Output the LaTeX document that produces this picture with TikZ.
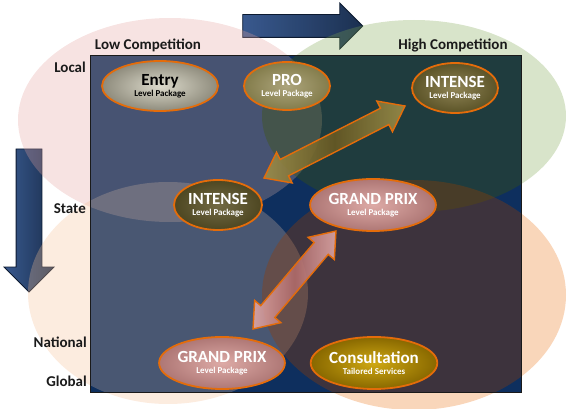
\documentclass[tikz,border=0pt]{standalone}
\usepackage{fontspec}
\setmainfont{Carlito}
\usepackage{tikz}
\usetikzlibrary{shapes.geometric,shapes.arrows,calc}

\definecolor{pkgorange}{HTML}{E46C0A}
\definecolor{labelgrey}{HTML}{1A1A1A}
\definecolor{boxnavy}{HTML}{0E2F5E}
\definecolor{pinkout}{HTML}{E4A29E}
\definecolor{greenout}{HTML}{7DA54E}
\definecolor{peachLout}{HTML}{F5BF94}
\definecolor{peachRout}{HTML}{EB7619}
\definecolor{pinkin}{HTML}{B4999A}
\definecolor{greenin}{HTML}{3F5703}
\definecolor{peachLin}{HTML}{B9A49A}
\definecolor{peachRin}{HTML}{973D00}
\definecolor{arrowlight}{HTML}{2E5088}
\definecolor{arrowdark}{HTML}{0F2547}
\definecolor{arrowedge}{HTML}{0C1A30}
\definecolor{entryin}{HTML}{DCDACB}
\definecolor{entryout}{HTML}{8E8B7C}
\definecolor{proin}{HTML}{ADA57C}
\definecolor{proout}{HTML}{837C4B}
\definecolor{intin}{HTML}{8F8455}
\definecolor{intout}{HTML}{5B5327}
\definecolor{grandin}{HTML}{DDAAA6}
\definecolor{grandout}{HTML}{AE7775}
\definecolor{consin}{HTML}{CFA812}
\definecolor{consout}{HTML}{886800}
\definecolor{oliveend}{HTML}{A09048}
\definecolor{olivemid}{HTML}{6A5A22}
\definecolor{rosyend}{HTML}{E3AAA8}
\definecolor{rosymid}{HTML}{B06A6A}

\newcommand{\pkgtitle}[1]{{\fontsize{17}{11}\selectfont #1}}

\begin{document}
\begin{tikzpicture}[
        x=1pt, y=-1pt,
        pkg/.style={ellipse, draw=pkgorange, line width=1.8pt, inner sep=0pt,
            align=center, text=white, font=\fontsize{9}{11}\selectfont\bfseries},
        axislabel/.style={font=\fontsize{15}{17}\selectfont\bfseries, text=labelgrey, inner sep=0pt},
        bigarrow/.style={single arrow, draw=arrowedge, line width=0.8pt,
            left color=arrowlight, right color=arrowdark, fill opacity=0.95},
        linkarrow/.style={double arrow, draw=pkgorange, line width=1.4pt, inner sep=8.5pt,
            double arrow head extend=8pt, double arrow tip angle=74, fill opacity=0.88}
    ]
    \useasboundingbox (0,0) rectangle (574,409);

    % Direction arrows
    \node[bigarrow, minimum height=120pt, inner sep=11pt, single arrow head extend=11.5pt]
        (compArrow) at (297,26) {};
    \node[bigarrow, rotate=-90, minimum height=143pt, inner sep=12.5pt, single arrow head extend=12pt]
        (geoArrow) at (29,214) {};

    % Pale market circles
    \begin{scope}[fill opacity=0.3]
        \fill[pinkout] (170,120) ellipse [x radius=152pt, y radius=102pt];
        \fill[peachLout] (168,293) ellipse [x radius=140pt, y radius=111pt];
        \fill[greenout] (414,116) ellipse [x radius=152pt, y radius=96pt];
        \fill[peachRout] (414,295) ellipse [x radius=152pt, y radius=115pt];
    \end{scope}

    % Dark panel with the circles showing through
    \fill[boxnavy] (90,56) rectangle (521,393);
    \begin{scope}[fill opacity=0.35]
        \clip (90,56) rectangle (521,393);
        \fill[pinkin] (170,120) ellipse [x radius=152pt, y radius=102pt];
        \fill[peachLin] (168,293) ellipse [x radius=140pt, y radius=111pt];
        \fill[greenin] (414,116) ellipse [x radius=152pt, y radius=96pt];
        \fill[peachRin] (414,295) ellipse [x radius=152pt, y radius=115pt];
    \end{scope}
    \draw[labelgrey, line width=1pt] (90,56) rectangle (521,393);

    % Axis labels
    \node[axislabel] (lowComp) at (148,45) {Low Competition};
    \node[axislabel] (highComp) at (453,45) {High Competition};
    \node[axislabel, anchor=east] (local) at (86,67) {Local};
    \node[axislabel, anchor=east] (state) at (86,209) {State};
    \node[axislabel, anchor=east] (national) at (87,342) {National};
    \node[axislabel, anchor=east] (global) at (87,381) {Global};

    % Packages
    \node[pkg, text=black, inner color=entryin, outer color=entryout, minimum width=116pt, minimum height=50pt]
        (entry) at (160,86) {\pkgtitle{Entry}\\Level Package};
    \node[pkg, inner color=proin, outer color=proout, minimum width=86pt, minimum height=48pt]
        (pro) at (287,86) {\pkgtitle{PRO}\\Level Package};
    \node[pkg, inner color=intin, outer color=intout, minimum width=86pt, minimum height=50pt]
        (intA) at (455,88) {\pkgtitle{INTENSE}\\Level Package};
    \node[pkg, inner color=intin!80!black, outer color=intout!85!black, minimum width=88pt, minimum height=50pt]
        (intB) at (218,205) {\pkgtitle{INTENSE}\\Level Package};
    \node[pkg, inner color=grandin, outer color=grandout, minimum width=110pt, minimum height=52pt]
        (gpA) at (373,205) {\pkgtitle{GRAND PRIX}\\Level Package};
    \node[pkg, inner color=grandin, outer color=grandout, minimum width=102pt, minimum height=52pt]
        (gpB) at (222,363) {\pkgtitle{GRAND PRIX}\\Level Package};
    \node[pkg, inner color=consin, outer color=consout, minimum width=108pt, minimum height=52pt]
        (cons) at (374,363) {\pkgtitle{Consultation}\\Tailored Services};

    % Moves between packages
    \coordinate (intAtip) at (405,106);
    \coordinate (intBtip) at (264,178);
    \coordinate (gpAtip) at (336,231);
    \coordinate (gpBtip) at (253,329);
    \path let \p1=($(intAtip)-(intBtip)$), \n1={atan2(\y1,\x1)}, \n2={veclen(\x1,\y1)} in
        node[linkarrow, left color=oliveend, right color=oliveend, middle color=olivemid,
            rotate=\n1, minimum height=\n2] (intMove) at ($(intBtip)!0.5!(intAtip)$) {};
    \path let \p1=($(gpAtip)-(gpBtip)$), \n1={atan2(\y1,\x1)}, \n2={veclen(\x1,\y1)} in
        node[linkarrow, left color=rosyend, right color=rosyend, middle color=rosymid,
            rotate=\n1, minimum height=\n2] (gpMove) at ($(gpBtip)!0.5!(gpAtip)$) {};

\end{tikzpicture}
\end{document}
